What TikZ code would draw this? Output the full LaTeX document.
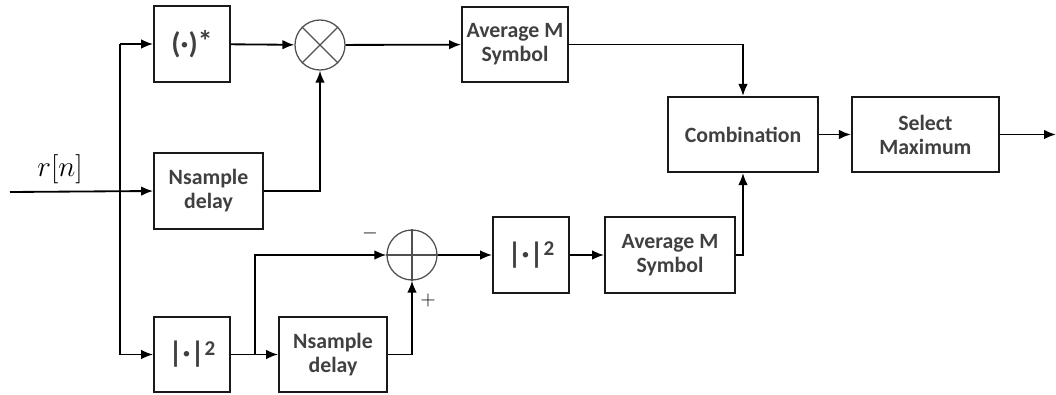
\documentclass[tikz,border=0pt]{standalone}
\usepackage{fontspec}
\newfontfamily\calib{Carlito}
\usetikzlibrary{arrows.meta, positioning}
\definecolor{txtgray}{HTML}{404040}
\definecolor{ringgray}{HTML}{505050}

\begin{document}
\begin{tikzpicture}[
    x=0.025cm, y=-0.025cm,
    blockbox/.style={draw=black!90, line width=1.3pt, minimum height=1.88cm, align=center, inner sep=2pt,
        font=\calib\bfseries\fontsize{15.5}{17}\selectfont, text=txtgray},
    symbox/.style={blockbox, minimum width=1.9cm, font=\calib\bfseries\fontsize{21}{22}\selectfont},
    opcirc/.style={circle, draw=ringgray, line width=0.9pt, minimum size=1.25cm, inner sep=0pt},
    arrow/.style={line width=1.3pt, -{Latex[length=0.3cm, width=0.24cm]}},
    wire/.style={line width=1.3pt}
]
\useasboundingbox (0,0) rectangle (1056,394);

% upper branch
\node[symbox] (conj) at (192, 44) {(·)\raisebox{0.1ex}{*}};
\node[opcirc] (mult) at (320, 45) {};
\draw[line width=0.9pt, ringgray] (mult.north west) -- (mult.south east) (mult.north east) -- (mult.south west);
\node[blockbox, minimum width=2.65cm] (avgTop) at (515, 44.5) {Average M\\Symbol};
\node[blockbox, minimum width=2.725cm] (delayTop) at (208.5, 191) {Nsample\\delay};

% lower branch
\node[symbox] (sqA) at (192, 354.5) {|·|\raisebox{0.55ex}{\fontsize{15}{16}\selectfont 2}};
\node[blockbox, minimum width=2.7cm] (delayBot) at (333, 354.5) {Nsample\\delay};
\node[opcirc] (sum) at (412, 255) {};
\draw[line width=0.9pt, ringgray] (sum.north) -- (sum.south) (sum.west) -- (sum.east);
\node[symbox] (sqB) at (531, 255) {|·|\raisebox{0.55ex}{\fontsize{15}{16}\selectfont 2}};
\node[blockbox, minimum width=3.25cm] (avgBot) at (670, 255) {Average M\\Symbol};
\node[font=\Large] (minus) at (370, 233) {$-$};
\node[font=\Large] (plus) at (428, 300) {$+$};

% decision
\node[blockbox, minimum width=3.75cm] (comb) at (743, 134.5) {Combination};
\node[blockbox, minimum width=3.675cm, right=0.8cm of comb] (selmax) {Select\\Maximum};

% input and split
\coordinate (in) at (10, 192);
\coordinate (splitTop) at (120, 44);
\coordinate (splitBot) at (120, 354.5);
\coordinate (tap) at (255, 354.5);
\coordinate (tapUp) at (255, 255);
\coordinate (out) at (1056, 134.5);
\node[font=\fontsize{22}{24}\selectfont] (rn) at (60, 169) {$r[n]$};

\draw[arrow] (in) -- (delayTop.west);
\draw[wire] (splitTop) -- (splitBot);
\draw[arrow] (splitTop) -- (conj.west);
\draw[arrow] (splitBot) -- (sqA.west);
\draw[arrow] (conj) -- (mult);
\draw[arrow] (delayTop.east) -| (mult.south);
\draw[arrow] (mult) -- (avgTop);
\draw[arrow] (avgTop.east) -| (comb.north);
\draw[arrow] (sqA) -- (delayBot);
\draw[arrow] (tap) -- (tapUp) -- (sum.west);
\draw[arrow] (delayBot.east) -| (sum.south);
\draw[arrow] (sum) -- (sqB);
\draw[arrow] (sqB) -- (avgBot);
\draw[arrow] (avgBot.east) -| (comb.south);
\draw[arrow] (comb) -- (selmax);
\draw[arrow] (selmax) -- (out);

\end{tikzpicture}
\end{document}
